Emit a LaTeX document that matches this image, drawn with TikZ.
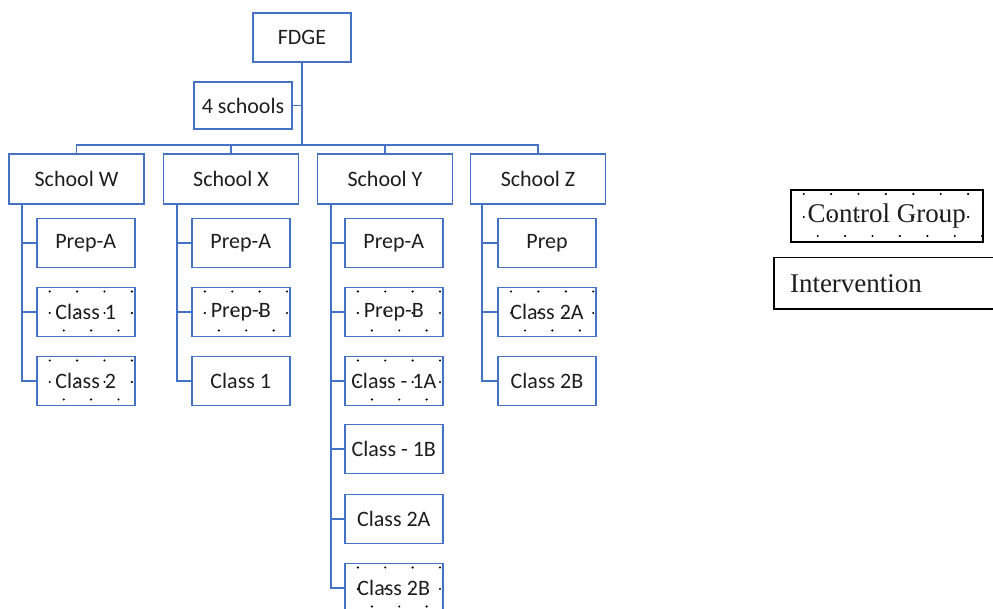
\documentclass[tikz,border=0pt]{standalone}
\usepackage{fontspec}
\setmainfont{Carlito}
\newfontfamily\legendfont{Liberation Serif}
\definecolor{orgblue}{RGB}{68,114,196}
\definecolor{ink}{RGB}{30,30,30}
\begin{document}
\begin{tikzpicture}[x=1pt,y=-1pt,
  box/.style={draw=orgblue, line width=1.8pt, rectangle, inner sep=0pt,
    minimum width=98pt, minimum height=49pt, text=ink,
    font=\fontsize{22}{24}\selectfont},
  school/.style={box, minimum width=135pt, minimum height=50pt},
  dotted box/.style={path picture={
    \foreach \k in {0,...,7}{
      \fill[black] ([shift={(13+27.4*\k,4)}]path picture bounding box.north west) circle (1.2);
      \fill[black] ([shift={(13+27.4*\k,1)}]path picture bounding box.west) circle (1.2);
      \fill[black] ([shift={(27+27.4*\k,-6)}]path picture bounding box.south west) circle (1.2);
    }}},
  link/.style={draw=orgblue, line width=1.8pt},
  legend/.style={draw=black, line width=1.6pt, rectangle, inner sep=0pt,
    text=ink, font=\legendfont\fontsize{27}{29}\selectfont}]
\useasboundingbox (0,0) rectangle (993,609);

% top of the tree
\node[box] (fdge) at (302,37.5) {FDGE};
\node[box, minimum height=47pt] (four) at (243,105.5) {4 schools};
\coordinate (bus) at (0,145);

% schools
\node[school] (sw) at (76.5,179) {School W};
\node[school] (sx) at (231,179) {School X};
\node[school] (sy) at (385,179) {School Y};
\node[school] (sz) at (538,179) {School Z};

% classes of school W
\node[box] (w1) at (85.7,243) {Prep-A};
\node[box, dotted box] (w2) at (85.7,312) {Class 1};
\node[box, dotted box] (w3) at (85.7,381) {Class 2};

% classes of school X
\node[box] (x1) at (240.8,243) {Prep-A};
\node[box, dotted box] (x2) at (240.8,312) {Prep-B};
\node[box] (x3) at (240.8,381) {Class 1};

% classes of school Y
\node[box] (y1) at (393.8,243) {Prep-A};
\node[box, dotted box] (y2) at (393.8,312) {Prep-B};
\node[box, dotted box] (y3) at (393.8,381) {Class - 1A};
\node[box] (y4) at (393.8,449) {Class - 1B};
\node[box] (y5) at (393.8,519) {Class 2A};
\node[box, dotted box] (y6) at (393.8,588) {Class 2B};

% classes of school Z
\node[box] (z1) at (547,243) {Prep};
\node[box, dotted box] (z2) at (547,312) {Class 2A};
\node[box] (z3) at (547,381) {Class 2B};

% connectors
\draw[link] (fdge.south) -- (fdge.south |- bus);
\draw[link] (four.east) -- (four.east -| fdge.south);
\draw[link] (sw.north) -- (sw.north |- bus) -| (sz.north);
\draw[link] (sx.north) -- (sx.north |- bus);
\draw[link] (sy.north) -- (sy.north |- bus);

\foreach \c in {w1,w2,w3}
  \draw[link] ([xshift=14pt]sw.south west) |- (\c.west);
\foreach \c in {x1,x2,x3}
  \draw[link] ([xshift=14pt]sx.south west) |- (\c.west);
\foreach \c in {y1,y2,y3,y4,y5,y6}
  \draw[link] ([xshift=14pt]sy.south west) |- (\c.west);
\foreach \c in {z1,z2,z3}
  \draw[link] ([xshift=12.5pt]sz.south west) |- (\c.west);

% legend
\node[legend, dotted box, minimum width=192pt, minimum height=52pt] (ctrl) at (886.7,216) {Control Group};
\node[legend, minimum width=230pt, minimum height=51.6pt, text width=198pt, align=left] (intv) at (889,283.5) {Intervention};
\end{tikzpicture}
\end{document}
